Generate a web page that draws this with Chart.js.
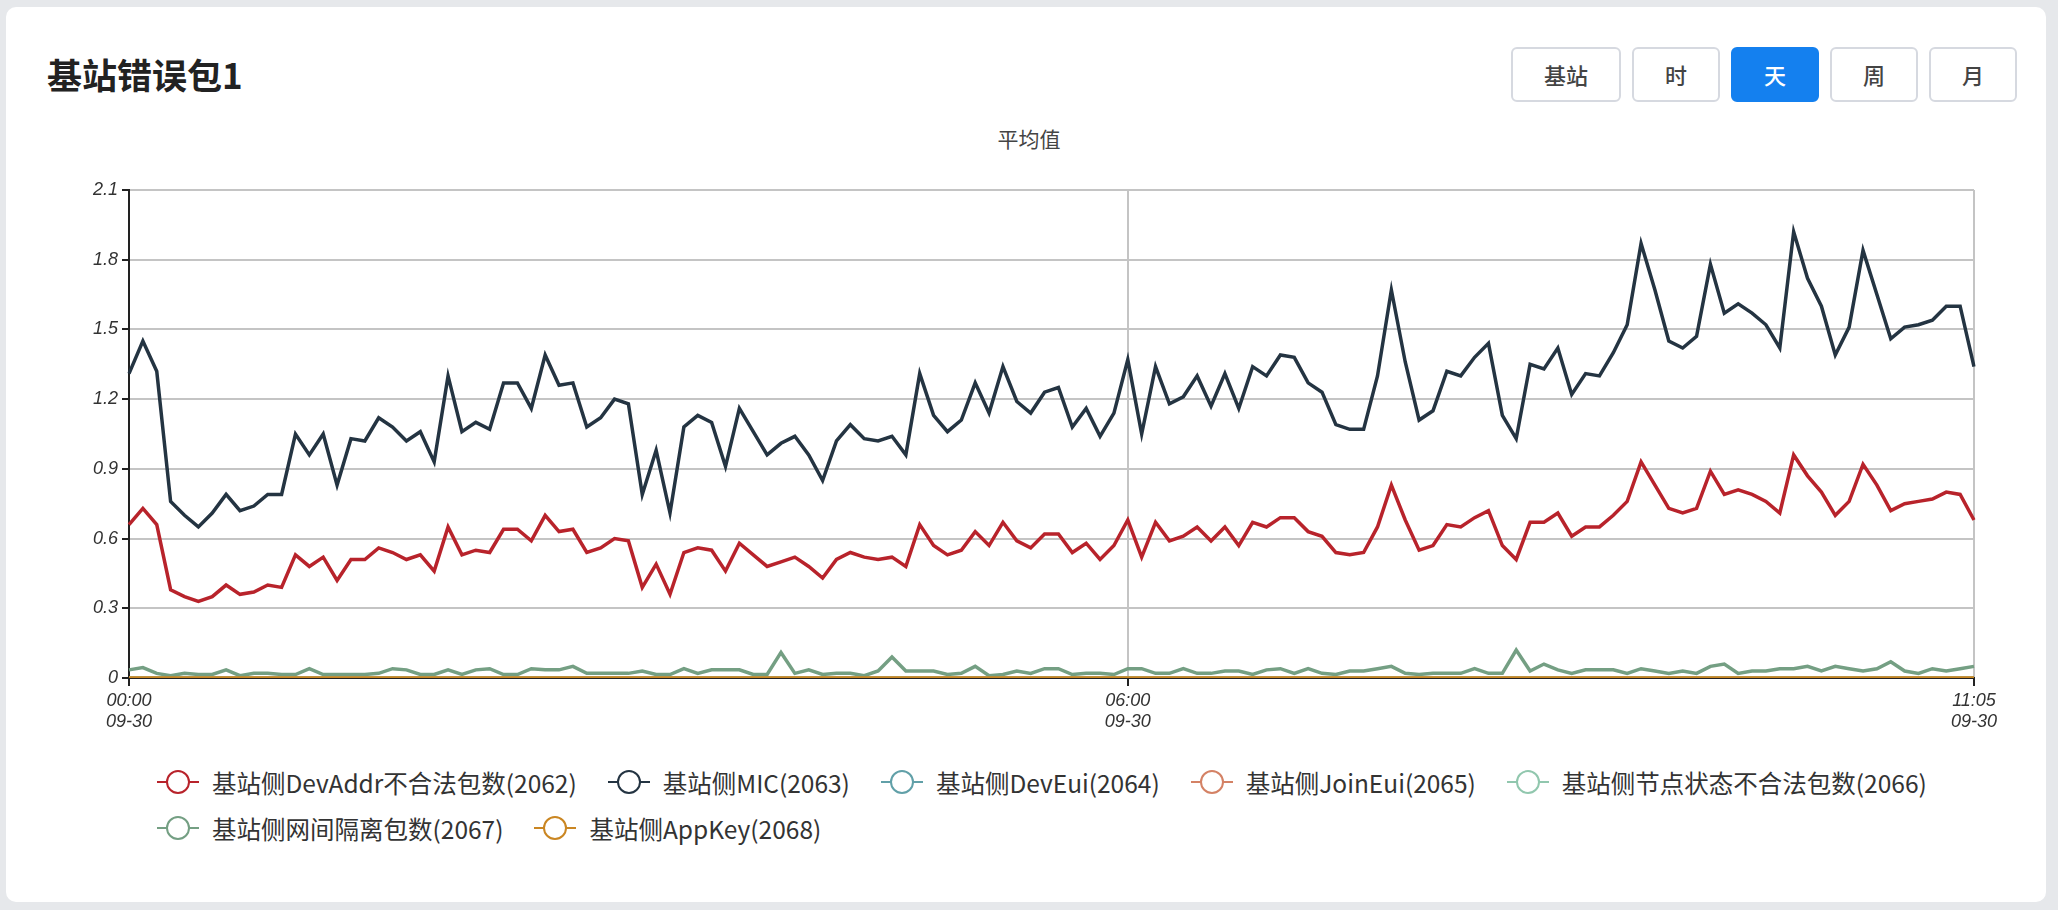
<!DOCTYPE html>
<html>
<head>
<meta charset="utf-8">
<script src="https://cdn.jsdelivr.net/npm/chart.js@4/dist/chart.umd.min.js"></script>
<style>
  html, body { margin: 0; padding: 0; background: #e6e8eb; width: 2058px; height: 910px; overflow: hidden; font-family: "Noto Sans CJK SC", "Noto Sans", sans-serif; }
  .card { position: absolute; left: 6px; top: 7px; width: 2040px; height: 895px; background: #fff; border-radius: 10px; }
  .title { position: absolute; left: 47px; top: 48px; font-size: 35px; font-weight: bold; color: #222; }
  .btns { position: absolute; top: 47px; left: 1511px; display: flex; gap: 11px; }
  .btns div { border: 2px solid #d6d9e0; border-radius: 6px; text-align: center; font-size: 22px; color: #444; font-weight: 500; box-sizing: border-box; height: 55px; line-height: 51px; width: 88px; }
  .btns div.on { background: #1480ef; border-color: #1480ef; color: #fff; }
  .sub { position: absolute; left: 0; width: 2058px; top: 123px; text-align: center; font-size: 21px; color: #444; }
  #wrap { position: absolute; left: 0; top: 150px; width: 2058px; height: 610px; }
  #legend { position: absolute; left: 156px; top: 763px; width: 1800px; display: flex; flex-wrap: wrap; column-gap: 30px; row-gap: 8px; font-size: 24.5px; color: #333; }
  #legend .it { display: flex; align-items: center; height: 38px; }
  #legend svg { margin-right: 12px; }
</style>
</head>
<body>
<div class="card"></div>
<div class="title">基站错误包1</div>
<div class="btns">
  <div style="width:110px">基站</div>
  <div>时</div>
  <div class="on">天</div>
  <div>周</div>
  <div>月</div>
</div>
<div class="sub">平均值</div>
<div id="wrap"><canvas id="grafico"></canvas></div>
<div id="legend"></div>
<script>
// 5-minute steps from 00:00 to 11:05 on 09-30
const labels = [];
for (let m = 0; m <= 665; m += 5) {
  const h = String(Math.floor(m / 60)).padStart(2, "0");
  const mm = String(m % 60).padStart(2, "0");
  labels.push(h + ":" + mm);
}
const dateLabel = "09-30";
const shownTicks = ["00:00", "06:00", "11:05"];
const yTicks = [0, 0.3, 0.6, 0.9, 1.2, 1.5, 1.8, 2.1];

const seriesNames = [
  "基站侧DevAddr不合法包数(2062)",
  "基站侧MIC(2063)",
  "基站侧DevEui(2064)",
  "基站侧JoinEui(2065)",
  "基站侧节点状态不合法包数(2066)",
  "基站侧网间隔离包数(2067)",
  "基站侧AppKey(2068)",
];
const cores = ["#b8232b", "#243442", "#61a0a8", "#d48265", "#91c7ae", "#749f83", "#ca8622"];

const devAddr = [0.66,0.73,0.66,0.38,0.35,0.33,0.35,0.40,0.36,0.37,0.40,0.39,0.53,0.48,0.52,0.42,0.51,0.51,0.56,0.54,
  0.51,0.53,0.46,0.65,0.53,0.55,0.54,0.64,0.64,0.59,0.70,0.63,0.64,0.54,0.56,0.60,0.59,0.39,0.49,0.36,
  0.54,0.56,0.55,0.46,0.58,0.53,0.48,0.50,0.52,0.48,0.43,0.51,0.54,0.52,0.51,0.52,0.48,0.66,0.57,0.53,
  0.55,0.63,0.57,0.67,0.59,0.56,0.62,0.62,0.54,0.58,0.51,0.57,0.68,0.52,0.67,0.59,0.61,0.65,0.59,0.65,
  0.57,0.67,0.65,0.69,0.69,0.63,0.61,0.54,0.53,0.54,0.65,0.83,0.68,0.55,0.57,0.66,0.65,0.69,0.72,0.57,
  0.51,0.67,0.67,0.71,0.61,0.65,0.65,0.70,0.76,0.93,0.83,0.73,0.71,0.73,0.89,0.79,0.81,0.79,0.76,0.71,
  0.96,0.87,0.80,0.70,0.76,0.92,0.83,0.72,0.75,0.76,0.77,0.80,0.79,0.68];
const mic = [1.31,1.45,1.32,0.76,0.70,0.65,0.71,0.79,0.72,0.74,0.79,0.79,1.05,0.96,1.05,0.83,1.03,1.02,1.12,1.08,
  1.02,1.06,0.93,1.30,1.06,1.10,1.07,1.27,1.27,1.16,1.39,1.26,1.27,1.08,1.12,1.20,1.18,0.79,0.98,0.71,
  1.08,1.13,1.10,0.91,1.16,1.06,0.96,1.01,1.04,0.96,0.85,1.02,1.09,1.03,1.02,1.04,0.96,1.31,1.13,1.06,
  1.11,1.27,1.14,1.34,1.19,1.14,1.23,1.25,1.08,1.16,1.04,1.14,1.37,1.05,1.34,1.18,1.21,1.30,1.17,1.31,
  1.16,1.34,1.30,1.39,1.38,1.27,1.23,1.09,1.07,1.07,1.30,1.67,1.36,1.11,1.15,1.32,1.30,1.38,1.44,1.13,
  1.03,1.35,1.33,1.42,1.22,1.31,1.30,1.40,1.52,1.87,1.67,1.45,1.42,1.47,1.78,1.57,1.61,1.57,1.52,1.42,
  1.92,1.72,1.60,1.39,1.51,1.84,1.65,1.46,1.51,1.52,1.54,1.60,1.60,1.34];
const isolation = [0.035,0.045,0.02,0.01,0.02,0.015,0.015,0.035,0.01,0.02,0.02,0.015,0.015,0.04,0.015,0.015,0.015,0.015,0.02,0.04,
  0.035,0.015,0.015,0.035,0.015,0.035,0.04,0.015,0.015,0.04,0.035,0.035,0.05,0.02,0.02,0.02,0.02,0.03,0.015,0.015,
  0.04,0.02,0.035,0.035,0.035,0.015,0.015,0.11,0.02,0.035,0.015,0.02,0.02,0.01,0.03,0.09,0.03,0.03,0.03,0.015,
  0.02,0.05,0.01,0.015,0.03,0.02,0.04,0.04,0.015,0.02,0.02,0.015,0.04,0.04,0.02,0.02,0.04,0.02,0.02,0.03,
  0.03,0.015,0.035,0.04,0.02,0.04,0.02,0.015,0.03,0.03,0.04,0.05,0.02,0.015,0.02,0.02,0.02,0.04,0.02,0.02,
  0.12,0.03,0.06,0.035,0.02,0.035,0.035,0.035,0.02,0.04,0.03,0.02,0.03,0.02,0.05,0.06,0.02,0.03,0.03,0.04,
  0.04,0.05,0.03,0.05,0.04,0.03,0.04,0.07,0.03,0.02,0.04,0.03,0.04,0.05];
const zeros = labels.map(() => 0);
const valores = [devAddr, mic, zeros, zeros, zeros, isolation, zeros];

const tickFont = { family: "Liberation Sans", size: 18, style: "italic" };

const ctx = document.getElementById("grafico");
const chart = new Chart(ctx, {
  type: "line",
  data: {
    labels: labels,
    datasets: seriesNames.map((nome, i) => ({
      label: nome,
      data: valores[i],
      borderColor: cores[i],
      backgroundColor: cores[i],
      borderWidth: 3.5,
      pointRadius: 0,
      tension: 0,
      order: seriesNames.length - i,
    })),
  },
  options: {
    responsive: true,
    maintainAspectRatio: false,
    animation: false,
    layout: { padding: { top: 40, right: 84, left: 0, bottom: 0 } },
    plugins: { legend: { display: false }, tooltip: { enabled: false } },
    scales: {
      x: {
        type: "category",
        offset: false,
        afterFit: (s) => { s.height = 82; },
        border: { color: "#222", width: 2 },
        grid: {
          color: (c) => (c.index === 72 || c.index === 133 ? "#c4c4c4" : "transparent"),
          tickColor: (c) => (shownTicks.includes(labels[c.index]) ? "#222" : "transparent"),
          tickLength: 8,
          lineWidth: 2,
        },
        ticks: {
          autoSkip: false,
          maxRotation: 0,
          color: "#333",
          font: tickFont,
          padding: 4,
          callback: function (v, i) {
            const l = labels[i];
            return shownTicks.includes(l) ? [l, dateLabel] : "";
          },
        },
      },
      y: {
        min: 0,
        max: 2.1,
        afterFit: (s) => { s.width = 129; },
        afterBuildTicks: (s) => { s.ticks = yTicks.map((v) => ({ value: v })); },
        border: { color: "#222", width: 2 },
        grid: { color: "#c4c4c4", lineWidth: 2, tickColor: "#222", tickLength: 7 },
        ticks: {
          color: "#333",
          font: tickFont,
          padding: 4,
          callback: (v) => (v === 0 ? "0" : v.toFixed(1)),
        },
      },
    },
  },
});

// legend
const legend = document.getElementById("legend");
seriesNames.forEach((nome, i) => {
  const it = document.createElement("div");
  it.className = "it";
  it.innerHTML =
    '<svg width="44" height="28"><line x1="1" y1="14" x2="43" y2="14" stroke="' + cores[i] +
    '" stroke-width="2"/><circle cx="22" cy="14" r="11" fill="#fff" stroke="' + cores[i] +
    '" stroke-width="2"/></svg><span>' + nome + "</span>";
  legend.appendChild(it);
});
</script>
</body>
</html>
